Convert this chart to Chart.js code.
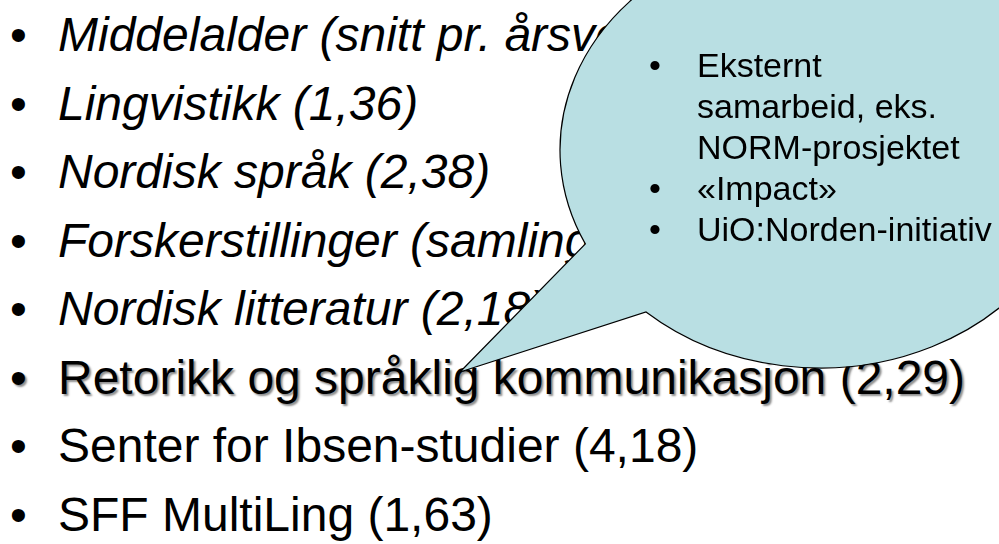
<!DOCTYPE html>
<html>
<head>
<meta charset="utf-8">
<script src="https://cdn.jsdelivr.net/npm/chart.js@4.4.1/dist/chart.umd.min.js"></script>
<style>
  html, body { margin: 0; padding: 0; background: #ffffff; }
  #wrap { position: relative; width: 999px; height: 544px; overflow: hidden;
          font-family: "Liberation Sans", Arial, sans-serif; color: #000; }
  .layer { position: absolute; left: 0; top: 0; width: 999px; height: 544px; }
  #list { z-index: 1; }
  #chart { position: absolute; left: 0; top: 0; z-index: 2; }
  #callout { z-index: 3; }
  .t { position: absolute; white-space: nowrap; line-height: 1; }
</style>
</head>
<body>
<div id="wrap">
  <div id="list" class="layer"></div>
  <canvas id="chart" width="999" height="544"></canvas>
  <div id="callout" class="layer"></div>
</div>
<script>
// ---- data ----
const itemNames  = ["Middelalder", "Lingvistikk", "Nordisk språk", "Forskerstillinger",
                    "Nordisk litteratur", "Retorikk og språklig kommunikasjon",
                    "Senter for Ibsen-studier", "SFF MultiLing"];
const itemNotes  = ["snitt pr. årsverk", null, null, "samlinger", null, null, null, null];
const itemValues = [null, 1.36, 2.38, null, 2.18, 2.29, 4.18, 1.63];
const calloutLines   = ["Eksternt", "samarbeid, eks.", "NORM-prosjektet", "«Impact»", "UiO:Norden-initiativ"];
const calloutBullets = [true, false, false, true, true];

// ---- layout / style ----
const L = {
  listFont: 48, listFirstBaseline: 52, listStep: 68.5, listTextX: 58, listBulletX: 10,
  italicCount: 5, shadowIndex: 5,
  calFont: 34, calFirstBaseline: 77, calStep: 41, calTextX: 697, calBulletX: 649,
  bubble: { cx: 820, cy: 150, rx: 260, ry: 218, tipX: 460, tipY: 372, a1: 154.5, a2: 132 },
  fill: "rgb(185,223,227)", stroke: "#000000"
};
const ASC = 0.8465; // baseline offset within a line-height:1 box (Liberation Sans)

function fmt(v) { return v.toFixed(2).replace(".", ","); }
function label(i) {
  const parts = [];
  if (itemNotes[i]) parts.push(itemNotes[i]);
  if (itemValues[i] !== null) parts.push(fmt(itemValues[i]));
  return itemNames[i] + (parts.length ? " (" + parts.join(" ") + ")" : "");
}
function addText(parent, txt, x, baseline, size, extra) {
  const d = document.createElement("div");
  d.className = "t";
  d.textContent = txt;
  d.style.left = x + "px";
  d.style.top = (baseline - ASC * size) + "px";
  d.style.fontSize = size + "px";
  if (extra) Object.assign(d.style, extra);
  parent.appendChild(d);
}

const list = document.getElementById("list");
itemNames.forEach((_, i) => {
  const b = L.listFirstBaseline + i * L.listStep;
  const sh = i === L.shadowIndex ? { textShadow: "2px 2px 2px rgba(0,0,0,0.45)" } : null;
  addText(list, "•", L.listBulletX, b, L.listFont, sh);
  const st = Object.assign({}, sh || {});
  if (i < L.italicCount) st.fontStyle = "italic";
  addText(list, label(i), L.listTextX, b, L.listFont, st);
});

const cal = document.getElementById("callout");
calloutLines.forEach((txt, i) => {
  const b = L.calFirstBaseline + i * L.calStep;
  if (calloutBullets[i]) addText(cal, "•", L.calBulletX, b, L.calFont);
  addText(cal, txt, L.calTextX, b, L.calFont);
});

// ---- Chart.js: speech-bubble drawn through the chart's scales ----
const bubblePlugin = {
  id: "bubble",
  afterDatasetsDraw(chart) {
    const { ctx, scales: { x, y } } = chart;
    const B = L.bubble;
    const cx = x.getPixelForValue(B.cx), cy = y.getPixelForValue(B.cy);
    const rx = Math.abs(x.getPixelForValue(B.cx + B.rx) - cx);
    const ry = Math.abs(y.getPixelForValue(B.cy + B.ry) - cy);
    const a1 = B.a1 * Math.PI / 180, a2 = B.a2 * Math.PI / 180;
    ctx.save();
    ctx.beginPath();
    ctx.ellipse(cx, cy, rx, ry, 0, a1, a2, false);
    ctx.lineTo(x.getPixelForValue(B.tipX), y.getPixelForValue(B.tipY));
    ctx.closePath();
    ctx.fillStyle = L.fill;
    ctx.fill();
    ctx.lineWidth = 1.2;
    ctx.strokeStyle = L.stroke;
    ctx.stroke();
    ctx.restore();
  }
};

new Chart(document.getElementById("chart"), {
  type: "scatter",
  data: { datasets: [{ data: [], pointRadius: 0 }] },
  options: {
    responsive: false, animation: false, devicePixelRatio: 1,
    layout: { padding: 0 },
    plugins: { legend: { display: false }, tooltip: { enabled: false }, title: { display: false } },
    scales: {
      x: { type: "linear", min: 0, max: 999, display: false },
      y: { type: "linear", min: 0, max: 544, reverse: true, display: false }
    }
  },
  plugins: [bubblePlugin]
});
</script>
</body>
</html>
